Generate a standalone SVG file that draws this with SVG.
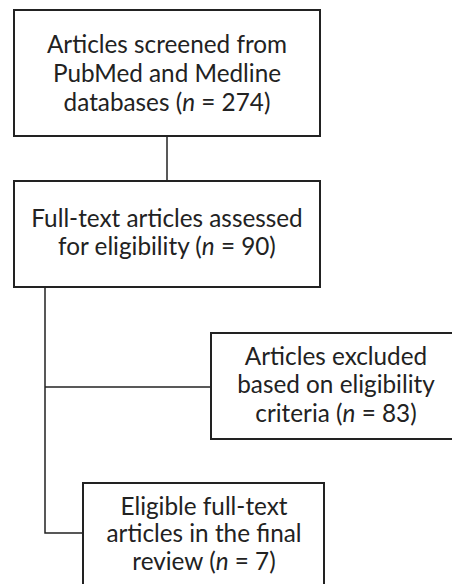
<svg xmlns="http://www.w3.org/2000/svg" width="452" height="584" viewBox="0 0 452 584">
<style>
.box{fill:#fff;stroke:#222;stroke-width:2}
.lbl{font-family:Lato,"Open Sans","Liberation Sans",sans-serif;font-size:24.3px;fill:#222;text-anchor:middle}
.con{fill:none;stroke:#222;stroke-width:1.5}
.i{font-style:italic}
</style>
<rect width="452" height="584" fill="#fff"/>
<g id="connectors">
<line class="con" x1="167" y1="136" x2="167" y2="181"/>
<polyline class="con" points="45,287 45,533 83,533"/>
<line class="con" x1="45" y1="387" x2="211" y2="387"/>
</g>
<g id="n1">
<rect class="box" x="14" y="10" width="306" height="126"/>
<text class="lbl" x="167" y="53">Articles screened from</text>
<text class="lbl" x="167" y="82">PubMed and Medline</text>
<text class="lbl" x="167" y="111">databases (<tspan class="i">n</tspan> = 274)</text>
</g>
<g id="n2">
<rect class="box" x="14" y="181" width="306" height="106"/>
<text class="lbl" x="167" y="227">Full-text articles assessed</text>
<text class="lbl" x="167" y="255">for eligibility (<tspan class="i">n</tspan> = 90)</text>
</g>
<g id="n3">
<rect class="box" x="211" y="333" width="250" height="106"/>
<text class="lbl" x="336" y="365">Articles excluded</text>
<text class="lbl" x="336" y="393">based on eligibility</text>
<text class="lbl" x="336" y="422">criteria (<tspan class="i">n</tspan> = 83)</text>
</g>
<g id="n4">
<rect class="box" x="83" y="483" width="241" height="110"/>
<text class="lbl" x="204" y="515">Eligible full-text</text>
<text class="lbl" x="204" y="542">articles in the final</text>
<text class="lbl" x="204" y="570">review (<tspan class="i">n</tspan> = 7)</text>
</g>
</svg>
